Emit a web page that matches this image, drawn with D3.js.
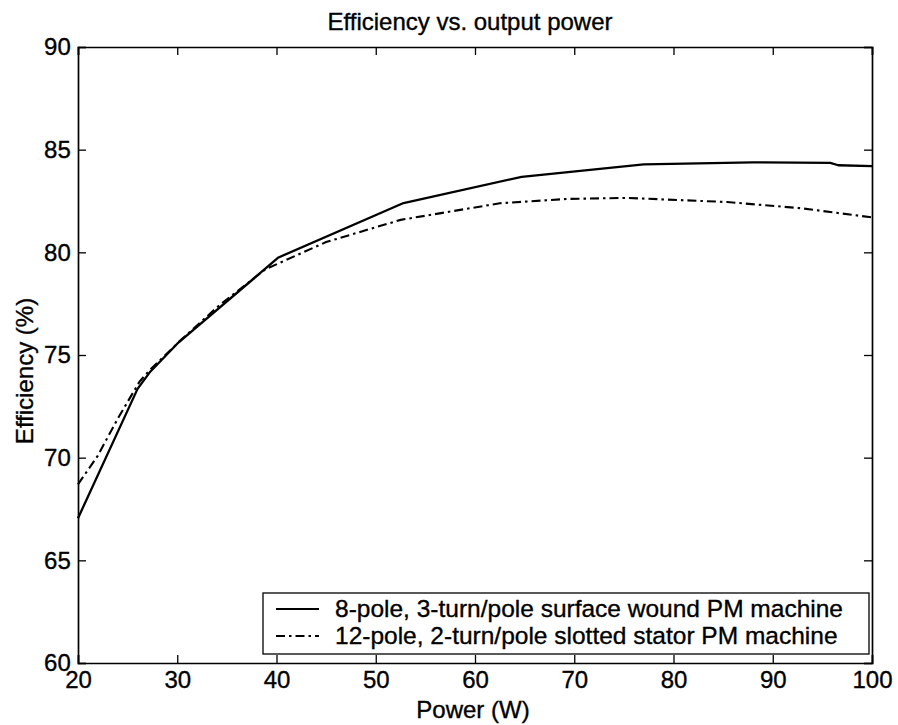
<!DOCTYPE html>
<html>
<head>
<meta charset="utf-8">
<script src="https://cdn.jsdelivr.net/npm/d3@7"></script>
<style>
  body { margin: 0; background: #fff; }
  svg text { font-family: "Liberation Sans", Arial, sans-serif; fill: #000; stroke: #000; stroke-width: 0.35px; }
</style>
</head>
<body>
<svg id="chart" width="898" height="725"></svg>
<script>
// Efficiency (%) against output power (W) for two PM machine designs
const surfacePower = [20, 26, 27.3, 30, 40.2, 52.8, 64.7, 77, 88, 95.8, 96.6, 100];
const surfaceEff   = [67.05, 73.35, 74.2, 75.55, 79.75, 82.4, 83.68, 84.28, 84.38, 84.36, 84.24, 84.2];

const slottedPower = [20, 22, 24, 26.2, 27.3, 30.3, 34.3, 38.9, 45, 52.5, 62.5, 69.2, 75.3, 85.4, 92.8, 100];
const slottedEff   = [68.7, 70.1, 71.9, 73.7, 74.3, 75.7, 77.45, 79.18, 80.5, 81.58, 82.39, 82.6, 82.65, 82.45, 82.15, 81.7];

const seriesNames = [
  "8-pole, 3-turn/pole surface wound PM machine",
  "12-pole, 2-turn/pole slotted stator PM machine"
];
const xTicks = [20, 30, 40, 50, 60, 70, 80, 90, 100];
const yTicks = [60, 65, 70, 75, 80, 85, 90];

const chartTitle = "Efficiency vs. output power";
const xLabel = "Power (W)";
const yLabel = "Efficiency (%)";

const svg = d3.select("#chart");
const m = { left: 78, right: 872, top: 47, bottom: 663 };

const x = d3.scaleLinear().domain([20, 100]).range([m.left, m.right]);
const y = d3.scaleLinear().domain([60, 90]).range([m.bottom, m.top]);

const tickLen = 8;
const fontTick = 24;

// Boxed axes with inward ticks on all four sides
const axisB = d3.axisBottom(x).tickValues(xTicks).tickSize(-tickLen).tickPadding(12);
const axisT = d3.axisTop(x).tickValues(xTicks).tickSize(-tickLen).tickFormat("");
const axisL = d3.axisLeft(y).tickValues(yTicks).tickSize(-tickLen).tickPadding(6);
const axisR = d3.axisRight(y).tickValues(yTicks).tickSize(-tickLen).tickFormat("");

function styleAxis(g) {
  g.select(".domain").attr("stroke", "#000").attr("stroke-width", 1.7);
  g.selectAll(".tick line").attr("stroke", "#000").attr("stroke-width", 1.3);
  g.selectAll(".tick text")
    .attr("font-size", fontTick)
    .style("font-family", "'Liberation Sans', Arial, sans-serif")
    .attr("fill", "#000");
}

svg.append("g").attr("transform", `translate(0,${m.bottom})`).call(axisB).call(styleAxis)
  .selectAll(".tick text").attr("dy", "0.55em");
svg.append("g").attr("transform", `translate(0,${m.top})`).call(axisT).call(styleAxis);
svg.append("g").attr("transform", `translate(${m.left},0)`).call(axisL).call(styleAxis)
  .selectAll(".tick text").attr("dx", "-0.05em");
svg.append("g").attr("transform", `translate(${m.right},0)`).call(axisR).call(styleAxis);

// Data lines
const line = d3.line().x(d => x(d[0])).y(d => y(d[1]));
const surfaceData = surfacePower.map((p, i) => [p, surfaceEff[i]]);
const slottedData = slottedPower.map((p, i) => [p, slottedEff[i]]);

const dashDot = "9,4,2.5,4";

svg.append("path").datum(surfaceData)
  .attr("d", line).attr("fill", "none")
  .attr("stroke", "#000").attr("stroke-width", 2.3)
  .attr("stroke-linejoin", "round");

svg.append("path").datum(slottedData)
  .attr("d", line).attr("fill", "none")
  .attr("stroke", "#000").attr("stroke-width", 2.1)
  .attr("stroke-dasharray", dashDot);

// Title and axis labels
svg.append("text")
  .attr("x", 470).attr("y", 30)
  .attr("text-anchor", "middle").attr("font-size", 24)
  .text(chartTitle);

svg.append("text")
  .attr("x", 473).attr("y", 718)
  .attr("text-anchor", "middle").attr("font-size", 24)
  .text(xLabel);

svg.append("text")
  .attr("transform", `translate(33,${(m.top + m.bottom) / 2 + 16}) rotate(-90)`)
  .attr("text-anchor", "middle").attr("font-size", 24)
  .text(yLabel);

// Legend
const lg = svg.append("g");
const lgBox = { x0: 263, y0: 593, x1: 869, y1: 654 };
lg.append("rect")
  .attr("x", lgBox.x0).attr("y", lgBox.y0)
  .attr("width", lgBox.x1 - lgBox.x0).attr("height", lgBox.y1 - lgBox.y0)
  .attr("fill", "#fff").attr("stroke", "#000").attr("stroke-width", 1.3);

const legendRows = [
  { name: seriesNames[0], dash: null, yPos: 609 },
  { name: seriesNames[1], dash: dashDot, yPos: 636 }
];
legendRows.forEach(r => {
  lg.append("line")
    .attr("x1", 276).attr("x2", 319)
    .attr("y1", r.yPos).attr("y2", r.yPos)
    .attr("stroke", "#000").attr("stroke-width", 1.8)
    .attr("stroke-dasharray", r.dash);
  lg.append("text")
    .attr("x", 335).attr("y", r.yPos + 8)
    .attr("font-size", 24.5)
    .text(r.name);
});
</script>
</body>
</html>
